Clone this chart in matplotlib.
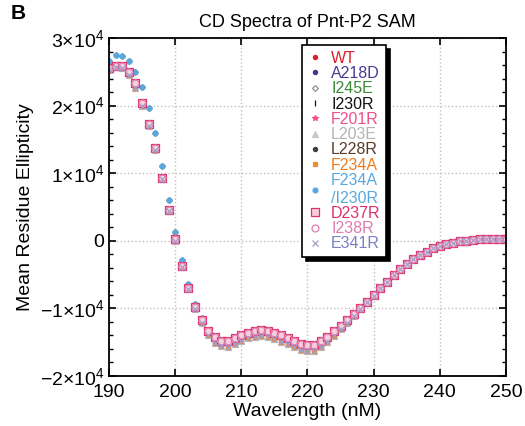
import numpy as np
import matplotlib
matplotlib.use('Agg')
import matplotlib.pyplot as plt
from matplotlib.ticker import MultipleLocator

plt.rcParams['font.family'] = ['Liberation Sans', 'DejaVu Sans']
plt.rcParams['mathtext.fontset'] = 'custom'
plt.rcParams['mathtext.rm'] = 'Liberation Sans'
plt.rcParams['mathtext.it'] = 'Liberation Sans'

# wavelength grid, 1 nm steps
wavelength = list(range(190, 251))

# curves (deg cm2 dmol-1)
core = [25600, 25900, 25900, 25000, 23400, 20400, 17300, 13800, 9300, 4600,
        200, -3700, -7000, -9800, -11700, -13300, -14300, -14800, -14800, -14400,
        -13900, -13600, -13300, -13200, -13300, -13600, -14000, -14400, -14800, -15200,
        -15400, -15400, -14800, -14200, -13400, -12600, -11700, -10800, -9900, -9000,
        -8000, -7000, -6100, -5100, -4200, -3400, -2700, -2100, -1600, -1100,
        -700, -500, -300, -100, 0, 100, 200, 300, 300, 300, 200]
high = [26600, 27500, 27400, 26600, 25000, 22800, 19700, 16000, 11100, 6100,
        1300, -2900, -6400, -9300, -11400, -13400, -14600, -15300, -15300, -14800,
        -14300, -13900, -13600, -13500, -13600, -13900, -14300, -14800, -15200, -15600,
        -15800, -15700, -15200, -14400, -13600, -12700, -11800, -10900, -9900, -9000,
        -8000, -7000, -6100, -5100, -4200, -3400, -2700, -2100, -1600, -1100,
        -700, -500, -300, -100, 0, 100, 200, 300, 300, 300, 200]
low = [25300, 25700, 25600, 24600, 22600, 19900, 17000, 13500, 9100, 4400,
       0, -3900, -7200, -10100, -12200, -14000, -15100, -15600, -15700, -15300,
       -14800, -14400, -14200, -14100, -14200, -14500, -14900, -15300, -15700, -16100,
       -16300, -16300, -15700, -15000, -14100, -13100, -12100, -11100, -10100, -9100,
       -8100, -7000, -6100, -5100, -4200, -3400, -2700, -2100, -1600, -1100,
       -700, -500, -300, -100, 0, 100, 200, 300, 300, 300, 200]

labels = ['WT', 'A218D', 'I245E', 'I230R', 'F201R', 'L203E', 'L228R',
          'F234A', 'F234A\n/I230R', 'D237R', 'I238R', 'E341R']
series = [core, core, high, core, core, low, low, low, high, core, core, low]
text_colors = ['#d8202c', '#4a3c94', '#3b8a3b', '#111111', '#f0508c', '#b4b4b4',
               '#5a3a28', '#f07c1c', '#58a8e0', '#e0306a', '#e07cb0', '#7c80c4']

# marker styles: (marker, size, face, edge)
styles = [('o', 3, '#d8202c', '#d8202c'),
          ('o', 3, '#3c3c8c', '#3c3c8c'),
          ('D', 3, 'none', '#909090'),
          ('|', 4, '#111111', '#111111'),
          ('*', 4, '#f0508c', '#f0508c'),
          ('^', 4, '#c8c8c8', '#c8c8c8'),
          ('o', 3, '#404040', '#404040'),
          ('s', 3.5, '#f08c30', '#f08c30'),
          ('o', 3.5, '#58a8e0', '#58a8e0'),
          ('s', 6, '#f8d0dc', '#e0306a'),
          ('o', 5, 'none', '#e07cb0'),
          ('x', 4, '#a0a0c8', '#a0a0c8')]

fig = plt.figure(figsize=(5.25, 4.26), dpi=100)
ax = fig.add_axes([0.2076, 0.1174, 0.7562, 0.7934])

for lab, ys, (m, ms, fc, ec) in zip(labels, series, styles):
    ax.plot(wavelength, ys, linestyle='none', marker=m, markersize=ms,
            markerfacecolor=fc, markeredgecolor=ec, markeredgewidth=0.9, label=lab)

ax.set_xlim(190, 250)
ax.set_ylim(-20000, 30000)
ax.xaxis.set_major_locator(MultipleLocator(10))
ax.yaxis.set_minor_locator(MultipleLocator(2000))
ax.set_yticks([-20000, -10000, 0, 10000, 20000, 30000])
ax.set_yticklabels([r'$\mathregular{-2{\times}10^4}$', r'$\mathregular{-1{\times}10^4}$', '0',
                    r'$\mathregular{1{\times}10^4}$', r'$\mathregular{2{\times}10^4}$',
                    r'$\mathregular{3{\times}10^4}$'])
ax.tick_params(which='both', direction='in', top=True, right=True, labelsize=14)
ax.tick_params(which='major', length=5, width=1.2)
ax.tick_params(which='minor', length=3, width=1)
ax.tick_params(axis='x', pad=6)
ax.grid(True, which='major', linestyle=':', color='#c0c0c0', linewidth=1)
for s in ax.spines.values():
    s.set_linewidth(1.3)

ax.set_xlabel('Wavelength (nM)', fontsize=14, labelpad=1)
ax.set_ylabel('Mean Residue Ellipticity', fontsize=14)
ax.set_title('CD Spectra of Pnt-P2 SAM', fontsize=13, pad=8)
fig.text(0.02, 0.955, 'B', fontsize=15, fontweight='bold')

leg = ax.legend(loc='upper left', bbox_to_anchor=(0.465, 1.003), fontsize=11.5,
                labelcolor=text_colors, handlelength=1.0, handletextpad=0.5,
                labelspacing=0.02, borderpad=0.35, fancybox=False, framealpha=1,
                edgecolor='black', markerscale=1.0,
                shadow={'color': 'black', 'alpha': 1, 'ox': 3, 'oy': -3})
leg.get_frame().set_linewidth(1.2)

fig.savefig('out.png', dpi=100)
